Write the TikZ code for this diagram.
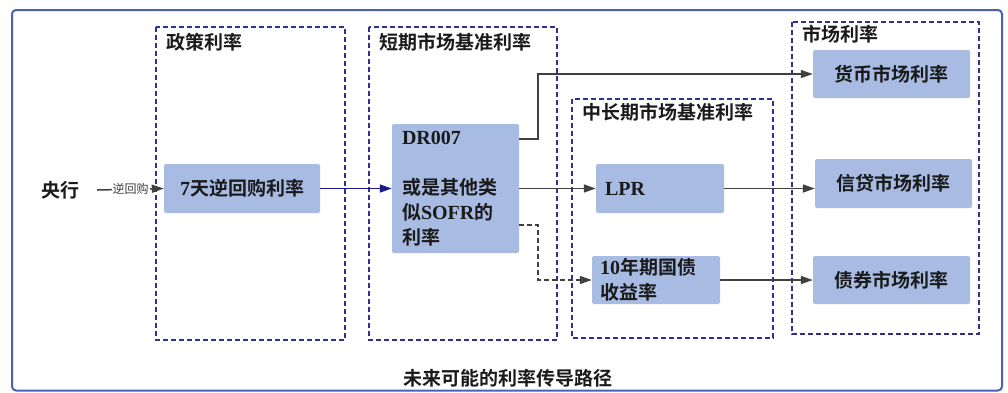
\documentclass[tikz,border=0pt]{standalone}
\usepackage{fontspec}
\setmainfont{Noto Sans CJK SC Bold}
\newfontfamily\latf{Liberation Serif}
\newfontfamily\lblf{Noto Sans CJK SC}
\newcommand\Lx[1]{{\latf\bfseries\fontsize{20}{25}\selectfont #1}}
\usetikzlibrary{arrows.meta,calc}
\definecolor{boxc}{HTML}{A8BBE3}
\definecolor{grpc}{HTML}{2E3192}
\definecolor{lnc}{HTML}{404040}
\definecolor{bluec}{HTML}{1A1A8C}
\definecolor{framec}{HTML}{4A62B5}
\definecolor{txtc}{HTML}{1A1A1A}
\begin{document}
\begin{tikzpicture}[x=1pt,y=-1pt,
  every node/.style={text=txtc, font=\fontsize{19}{25}\selectfont},
  box/.style={fill=boxc, rounded corners=2pt, inner sep=0pt},
  grp/.style={draw=grpc, line width=1.2pt, dash pattern=on 5pt off 3pt},
  ttl/.style={anchor=west, inner sep=0pt},
  ln/.style={draw=lnc, line width=1.5pt, -{Triangle[length=12pt,width=8pt]}},
  lbl/.style={fill=white, inner sep=1pt, text=lnc, font=\lblf\fontsize{12}{14}\selectfont}]
\useasboundingbox (0,0) rectangle (1008,392);
% outer frame
\draw[framec, line width=2pt, rounded corners=4pt] (12,10) rectangle (1002,390.5);
% groups
\draw[grp] (156,27) rectangle (345,340);
\draw[grp] (369,27) rectangle (557,340);
\draw[grp] (572,99) rectangle (773,338);
\draw[grp] (792,22) rectangle (979,334);
\node[ttl] (t1) at (166,42) {政策利率};
\node[ttl] (t2) at (379,42) {短期市场基准利率};
\node[ttl] (t3) at (582,112) {中长期市场基准利率};
\node[ttl] (t4) at (802,34) {市场利率};
% nodes
\node[inner ysep=0pt, inner xsep=18pt] (cb) at (60,190) {央行};
\node[box, minimum width=156, minimum height=49] (seven) at (242,188.5) {\Lx{7}天逆回购利率};
\node[box, minimum width=127, minimum height=129, text width=107, align=left] (dr) at (455.5,188.5)
  {\Lx{DR007}\\[25pt]或是其他类\\似\Lx{SOFR}的\\利率};
\node[box, minimum width=128, minimum height=49, text width=110, align=left] (lpr) at (660,188.5) {\Lx{LPR}};
\node[box, minimum width=128, minimum height=48, text width=112, align=left] (b10) at (656,280)
  {\Lx{10}年期国债\\收益率};
\node[box, minimum width=157, minimum height=48] (money) at (891.5,74) {货币市场利率};
\node[box, minimum width=157, minimum height=49] (credit) at (893.5,183.5) {信贷市场利率};
\node[box, minimum width=157, minimum height=48] (bond) at (891.5,280) {债券市场利率};
% edges
\draw[ln] (cb.east) -- node[lbl] {逆回购} (seven.west);
\draw[ln, draw=bluec, line width=1.3pt] (seven.east) -- (dr.west);
\draw[ln] ($(dr.north east)+(0,15)$) -- ++(19,0) |- (money.west);
\draw[ln] (dr.east) -- (lpr.west);
\draw[ln, dash pattern=on 5pt off 3pt] ($(dr.south east)+(0,-28)$) -- ++(19,0) |- (b10.west);
\draw[ln] (lpr.east) -- (lpr.east -| credit.west);
\draw[ln] (b10.east) -- (bond.west);
% caption
\node (cap) at (508,378) {未来可能的利率传导路径};
\end{tikzpicture}
\end{document}
